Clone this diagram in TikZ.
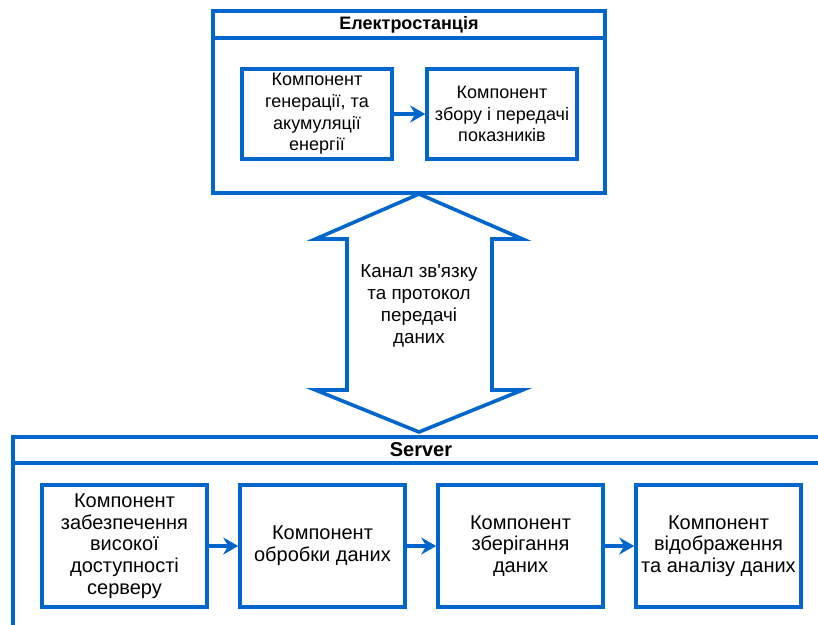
\documentclass[tikz,border=0pt]{standalone}
\usepackage{fontspec}
\setmainfont{Liberation Sans}[Ligatures=TeXOff]
\usetikzlibrary{positioning,arrows.meta}
\definecolor{frame}{RGB}{0,102,204}

\begin{document}
\begin{tikzpicture}[x=1pt,y=-1pt,on grid,node distance=198pt,
        every node/.style={font=\fontsize{18}{21.7}\selectfont,align=center,inner sep=0pt},
        group/.style={draw=frame,line width=3.6pt,fill=white},
        title/.style={draw=frame,line width=3.6pt,font=\fontsize{18}{21.7}\selectfont\bfseries},
        part/.style={draw=frame,line width=3.6pt,minimum width=150pt,minimum height=90pt},
        srvpart/.style={part,minimum width=165pt,minimum height=122pt,font=\fontsize{20}{21.7}\selectfont},
        flow/.style={draw=frame,line width=3.6pt,-{Stealth[length=15pt,width=17pt,inset=5pt]}},
        link/.style={draw=frame,line width=3.6pt,line join=miter,fill=white}]
    \useasboundingbox (0,0) rectangle (818,624);
    \clip (0,0) rectangle (818,624);

    % power plant
    \node[group,minimum width=392pt,minimum height=182pt] (station) at (409,102) {};
    \node[title,minimum width=392pt,minimum height=27pt,anchor=north] (stationtitle) at (station.north) {Електростанція};
    \node[part] (gen) at (317,114) {Компонент\\генерації, та\\акумуляції\\енергії};
    \node[part] (meter) [right=185pt of gen] {Компонент\\збору і передачі\\показників};
    \path[flow] (gen) -- (meter);

    % server
    \node[group,minimum width=816pt,minimum height=220pt] (server) at (421,547) {};
    \node[title,minimum width=816pt,minimum height=26pt,anchor=north,font=\fontsize{20}{21.7}\selectfont\bfseries] (servertitle) at (server.north) {Server};
    \node[srvpart] (ha) at (124.5,546) {Компонент\\забезпечення\\високої\\доступності\\серверу};
    \node[srvpart] (proc) [right=of ha] {Компонент\\обробки даних};
    \node[srvpart] (store) [right=of proc] {Компонент\\зберігання\\даних};
    \node[srvpart] (view) [right=of store] {Компонент\\відображення\\та аналізу даних};
    \path[flow] (ha) -- (proc);
    \path[flow] (proc) -- (store);
    \path[flow] (store) -- (view);

    % channel between them
    \path[link,shift={(419,313)}] (0,-119) -- (103.5,-74) -- (73,-74) -- (73,77)
        -- (103.5,77) -- (0,119) -- (-103.5,77) -- (-72,77) -- (-72,-74)
        -- (-103.5,-74) -- cycle;
    \node[font=\fontsize{18.8}{22}\selectfont] (channel) at (419,306) {Канал зв'язку\\та протокол\\передачі\\даних};
\end{tikzpicture}
\end{document}
